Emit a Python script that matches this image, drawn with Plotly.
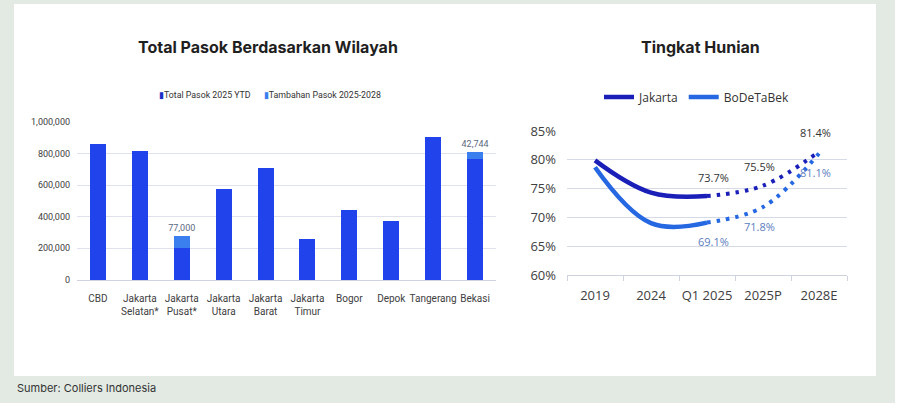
import plotly.graph_objects as go

W, H = 906, 418

# ---- data: bar chart ----
regions = ["CBD", "Jakarta<br>Selatan*", "Jakarta<br>Pusat*", "Jakarta<br>Utara", "Jakarta<br>Barat",
           "Jakarta<br>Timur", "Bogor", "Depok", "Tangerang", "Bekasi"]
total_2025_ytd = [859000, 817000, 201000, 573000, 705000, 257000, 442000, 373000, 901000, 767000]
tambahan_2025_2028 = [0, 0, 77000, 0, 0, 0, 0, 0, 0, 42744]
tambahan_labels = ["", "", "77,000", "", "", "", "", "", "", "42,744"]
bar_yticks = [0, 200000, 400000, 600000, 800000, 1000000]

# ---- data: line chart ----
periods = ["2019", "2024", "Q1 2025", "2025P", "2028E"]
jakarta = [79.9, 74.3, 73.7, 75.5, 81.4]
bodetabek = [78.7, 69.0, 69.1, 71.8, 81.1]
line_yticks = [60, 65, 70, 75, 80, 85]
line_ticktext = ["60%", "65%", "70%", "75%", "80%", "85%"]

def px(x):
    return x / W

def py(y):
    return 1 - y / H

NARROW = "Roboto"
C_TOTAL = "#2143ec"
C_ADD = "#3b7eee"
C_JAK = "#1a1fb8"
C_BOD = "#2668e2"

fig = go.Figure()

fig.add_trace(go.Bar(
    x=regions, y=total_2025_ytd, name="Total Pasok 2025 YTD",
    marker=dict(color=C_TOTAL, line=dict(width=0)),
    xaxis="x", yaxis="y", showlegend=False,
))
fig.add_trace(go.Bar(
    x=regions, y=tambahan_2025_2028, name="Tambahan Pasok 2025-2028",
    marker=dict(color=C_ADD, line=dict(width=0)),
    text=tambahan_labels, textposition="outside", cliponaxis=False, constraintext="none",
    textfont=dict(family=NARROW, size=9, color="#5d6882"),
    xaxis="x", yaxis="y", showlegend=False,
))

# line chart: solid history, dotted projection
split = 3
fig.add_trace(go.Scatter(
    x=periods[:split], y=jakarta[:split], name="Jakarta", mode="lines",
    line=dict(color=C_JAK, width=4.5, shape="spline", smoothing=1.1),
    xaxis="x2", yaxis="y2", legend="legend2",
))
fig.add_trace(go.Scatter(
    x=periods[:split], y=bodetabek[:split], name="BoDeTaBek", mode="lines",
    line=dict(color=C_BOD, width=4.5, shape="spline", smoothing=1.1),
    xaxis="x2", yaxis="y2", legend="legend2",
))
fig.add_trace(go.Scatter(
    x=periods[split - 1:], y=jakarta[split - 1:], mode="lines", showlegend=False,
    line=dict(color=C_JAK, width=4, shape="spline", smoothing=1.0, dash="3.5px,6px"),
    xaxis="x2", yaxis="y2",
))
fig.add_trace(go.Scatter(
    x=periods[split - 1:], y=bodetabek[split - 1:], mode="lines", showlegend=False,
    line=dict(color=C_BOD, width=4, shape="spline", smoothing=1.0, dash="3.5px,6px"),
    xaxis="x2", yaxis="y2",
))

annotations = []
# value labels on the line chart
for i in range(2, 5):
    annotations.append(dict(x=periods[i], y=jakarta[i], xref="x2", yref="y2",
                            text=f"{jakarta[i]:.1f}%", showarrow=False, yshift=19, xshift=(6 if i == 2 else -4),
                            font=dict(family="Open Sans", size=11, color="#333333")))
    annotations.append(dict(x=periods[i], y=bodetabek[i], xref="x2", yref="y2",
                            text=f"{bodetabek[i]:.1f}%", showarrow=False, yshift=-19, xshift=(6 if i == 2 else -4),
                            font=dict(family="Open Sans", size=11, color="#5b7dc0")))

# titles
annotations.append(dict(x=px(268), y=py(47), xref="paper", yref="paper", xanchor="center", yanchor="middle",
                        text="<b>Total Pasok Berdasarkan Wilayah</b>",
                        showarrow=False, font=dict(family="Inter", size=16, color="#1f1f1f")))
annotations.append(dict(x=px(700), y=py(47), xref="paper", yref="paper", xanchor="center", yanchor="middle",
                        text="<b>Tingkat Hunian</b>",
                        showarrow=False, font=dict(family="Inter", size=16, color="#1f1f1f")))
# bar legend
annotations.append(dict(x=px(270), y=py(95), xref="paper", yref="paper", xanchor="center", yanchor="middle",
                        text=(f"<span style='color:#1a32c8'>▮</span>Total Pasok 2025 YTD      "
                              f"<span style='color:{C_ADD}'>▮</span>Tambahan Pasok 2025-2028"),
                        showarrow=False, font=dict(family=NARROW, size=8.8, color="#333333")))
# source
annotations.append(dict(x=px(15), y=py(388), xref="paper", yref="paper", xanchor="left", yanchor="middle",
                        text="Sumber: Colliers Indonesia",
                        showarrow=False, font=dict(family="Inter", size=11, color="#333333")))

shapes = [
    dict(type="rect", xref="paper", yref="paper", x0=0, x1=px(895), y0=py(403), y1=1,
         fillcolor="#e2eae3", line=dict(width=0), layer="below"),
    dict(type="rect", xref="paper", yref="paper", x0=px(14), x1=px(876), y0=py(376), y1=py(4),
         fillcolor="#ffffff", line=dict(width=0), layer="below"),
]

fig.update_layout(
    width=W, height=H,
    margin=dict(l=0, r=0, t=0, b=0, autoexpand=False),
    paper_bgcolor="#ffffff",
    plot_bgcolor="rgba(0,0,0,0)",
    barmode="stack",
    bargap=0.62,
    showlegend=True,
    xaxis=dict(domain=[px(77), px(496)], anchor="y", showgrid=False, ticks="", automargin=False,
               tickangle=0, showline=True, linecolor="#cfd3e0", linewidth=1, ticklabelstandoff=9,
               tickfont=dict(family=NARROW, size=10, color="#404040"), fixedrange=True),
    yaxis=dict(domain=[py(280), py(121.7)], anchor="x", range=[0, 1000000], automargin=False,
               tickvals=bar_yticks, tickformat=",", showgrid=True, gridcolor="#dfe2ec", gridwidth=1,
               zeroline=False, showline=False, ticks="", ticklabelstandoff=6,
               tickfont=dict(family=NARROW, size=9, color="#404040")),
    xaxis2=dict(domain=[px(567), px(847)], anchor="y2", showgrid=False, automargin=False,
                range=[-0.5, 4.5], tickangle=0,
                showline=True, linecolor="#cfd3e0", linewidth=1,
                ticks="outside", ticklen=5, tickcolor="#cfd3e0", tickson="boundaries",
                ticklabelstandoff=8,
                tickfont=dict(family="Open Sans", size=13, color="#404040")),
    yaxis2=dict(domain=[py(275), py(131)], anchor="x2", range=[60, 85], automargin=False,
                tickvals=line_yticks, ticktext=line_ticktext, showgrid=True, gridcolor="#d6dae6", gridwidth=1,
                zeroline=False, showline=False, ticks="", ticklabelstandoff=10,
                tickfont=dict(family="Open Sans", size=13, color="#404040")),
    legend2=dict(orientation="h", x=px(599), y=py(97), xanchor="left", yanchor="middle",
                 bgcolor="rgba(0,0,0,0)", font=dict(family="Open Sans", size=12, color="#333333"),
                 itemwidth=30, tracegroupgap=0),
    annotations=annotations,
    shapes=shapes,
)

fig.write_html("out.html")
